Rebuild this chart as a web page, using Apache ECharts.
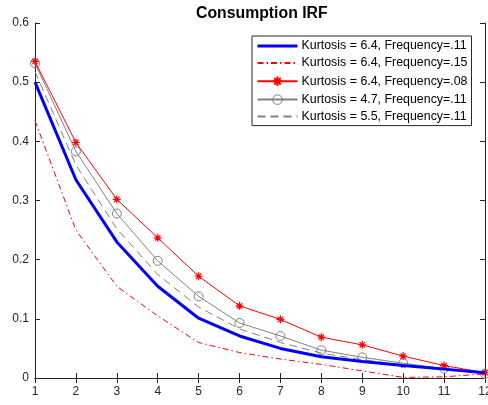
<!DOCTYPE html>
<html><head><meta charset="utf-8">
<script src="https://cdn.jsdelivr.net/npm/echarts@6/dist/echarts.min.js"></script>
<style>html,body{margin:0;padding:0;background:#fff}#c{width:488px;height:405px}</style>
</head><body><div id="c"></div>
<script>
var horizons = ['1','2','3','4','5','6','7','8','9','10','11','12'];
var k64f11 = [0.500,0.335,0.230,0.155,0.101,0.071,0.050,0.036,0.028,0.021,0.015,0.009];
var k64f15 = [0.435,0.250,0.155,0.105,0.060,0.043,0.032,0.023,0.012,0.001,0.002,0.007];
var k64f08 = [0.535,0.398,0.302,0.237,0.172,0.122,0.099,0.069,0.056,0.037,0.021,0.009];
var k47f11 = [0.532,0.383,0.278,0.198,0.138,0.093,0.071,0.047,0.035,0.025,0.016,0.007];
var k55f11 = [0.518,0.360,0.252,0.175,0.120,0.083,0.060,0.042,0.031,0.022,0.015,0.008];
var names = ['Kurtosis = 6.4, Frequency=.11','Kurtosis = 6.4, Frequency=.15','Kurtosis = 6.4, Frequency=.08','Kurtosis = 4.7, Frequency=.11','Kurtosis = 5.5, Frequency=.11'];
var yTicks = [0,0.1,0.2,0.3,0.4,0.5,0.6];

var font = 'Liberation Sans, Arial, Helvetica, sans-serif';
var axCol = '#262626';
var asterisk = 'path://M5,0L5,10M0,5L10,5M1.6,1.6L8.4,8.4M1.6,8.4L8.4,1.6';
var clear = 'rgba(0,0,0,0)';
function pairs(arr){ return arr.map(function(v,i){ return [Number(horizons[i]), v]; }); }

var chart = echarts.init(document.getElementById('c'), null, {renderer:'canvas'});
var xBase = {
  type:'value', min:1, max:12, interval:1,
  axisLine:{show:true, lineStyle:{color:axCol, width:1}},
  axisTick:{show:true, inside:true, length:5, lineStyle:{color:axCol}},
  splitLine:{show:false}
};
var yBase = {
  type:'value', min:0, max:0.6, interval:0.1,
  axisLine:{show:true, lineStyle:{color:axCol, width:1}},
  axisTick:{show:true, inside:true, length:5, lineStyle:{color:axCol}},
  splitLine:{show:false}
};
chart.setOption({
  animation:false,
  backgroundColor:'#fff',
  title:{text:'Consumption IRF', left:191, top:1,
    textStyle:{fontFamily:font, fontSize:15.8, fontWeight:'bold', color:'#000'}},
  grid:{left:35, right:3, top:23, bottom:27, containLabel:false, outerBoundsMode:'none'},
  xAxis:[
    Object.assign({}, xBase, {position:'bottom',
      axisLabel:{show:true, fontFamily:font, fontSize:12, color:axCol, margin:8,
        formatter:function(v){ return horizons[v-1] || ''; }}}),
    Object.assign({}, xBase, {position:'top', axisLabel:{show:false}})
  ],
  yAxis:[
    Object.assign({}, yBase, {position:'left',
      axisLabel:{show:true, fontFamily:font, fontSize:12, color:axCol, margin:6,
        formatter:function(v){ var t = yTicks.find(function(x){return Math.abs(x-v)<1e-9;}); return t===0?'0':String(t); }}}),
    Object.assign({}, yBase, {position:'right', axisLabel:{show:false}})
  ],
  legend:{
    orient:'vertical', left:252, top:36, itemWidth:40, itemHeight:12, itemGap:5,
    padding:[4,4,3,4], borderColor:axCol, borderWidth:1, backgroundColor:'#fff',
    textStyle:{fontFamily:font, fontSize:12.4, lineHeight:12, color:'#000', padding:[0,0,0,-1]},
    data:[
      {name:names[0], lineStyle:{width:3, color:'#0000ff'}},
      {name:names[1]},
      {name:names[2]},
      {name:names[3], itemStyle:{borderWidth:1}},
      {name:names[4]}
    ]
  },
  series:[
    {name:names[0], type:'line', data:pairs(k64f11), symbol:'circle', symbolSize:1, showSymbol:false, z:5,
      lineStyle:{color:'#0000ff', width:3}, itemStyle:{color:clear, borderColor:clear, borderWidth:0}},
    {name:names[1], type:'line', data:pairs(k64f15), symbol:'circle', symbolSize:1, showSymbol:false, z:4,
      lineStyle:{color:'#ff0000', width:1, type:[6,3,1.5,3]}, itemStyle:{color:clear, borderColor:clear, borderWidth:0}},
    {name:names[2], type:'line', data:pairs(k64f08), symbol:asterisk, symbolSize:8, z:4,
      lineStyle:{color:'#ff0000', width:1},
      itemStyle:{color:'none', borderColor:'#ff0000', borderWidth:1.2}},
    {name:names[3], type:'line', data:pairs(k47f11), symbol:'circle', symbolSize:9, z:3,
      lineStyle:{color:'#808080', width:1},
      itemStyle:{color:clear, borderColor:'#808080', borderWidth:1}},
    {name:names[4], type:'line', data:pairs(k55f11), symbol:'circle', symbolSize:1, showSymbol:false, z:3,
      lineStyle:{color:'#808080', width:1, type:[8,5]}, itemStyle:{color:clear, borderColor:clear, borderWidth:0}}
  ]
});
</script></body></html>
